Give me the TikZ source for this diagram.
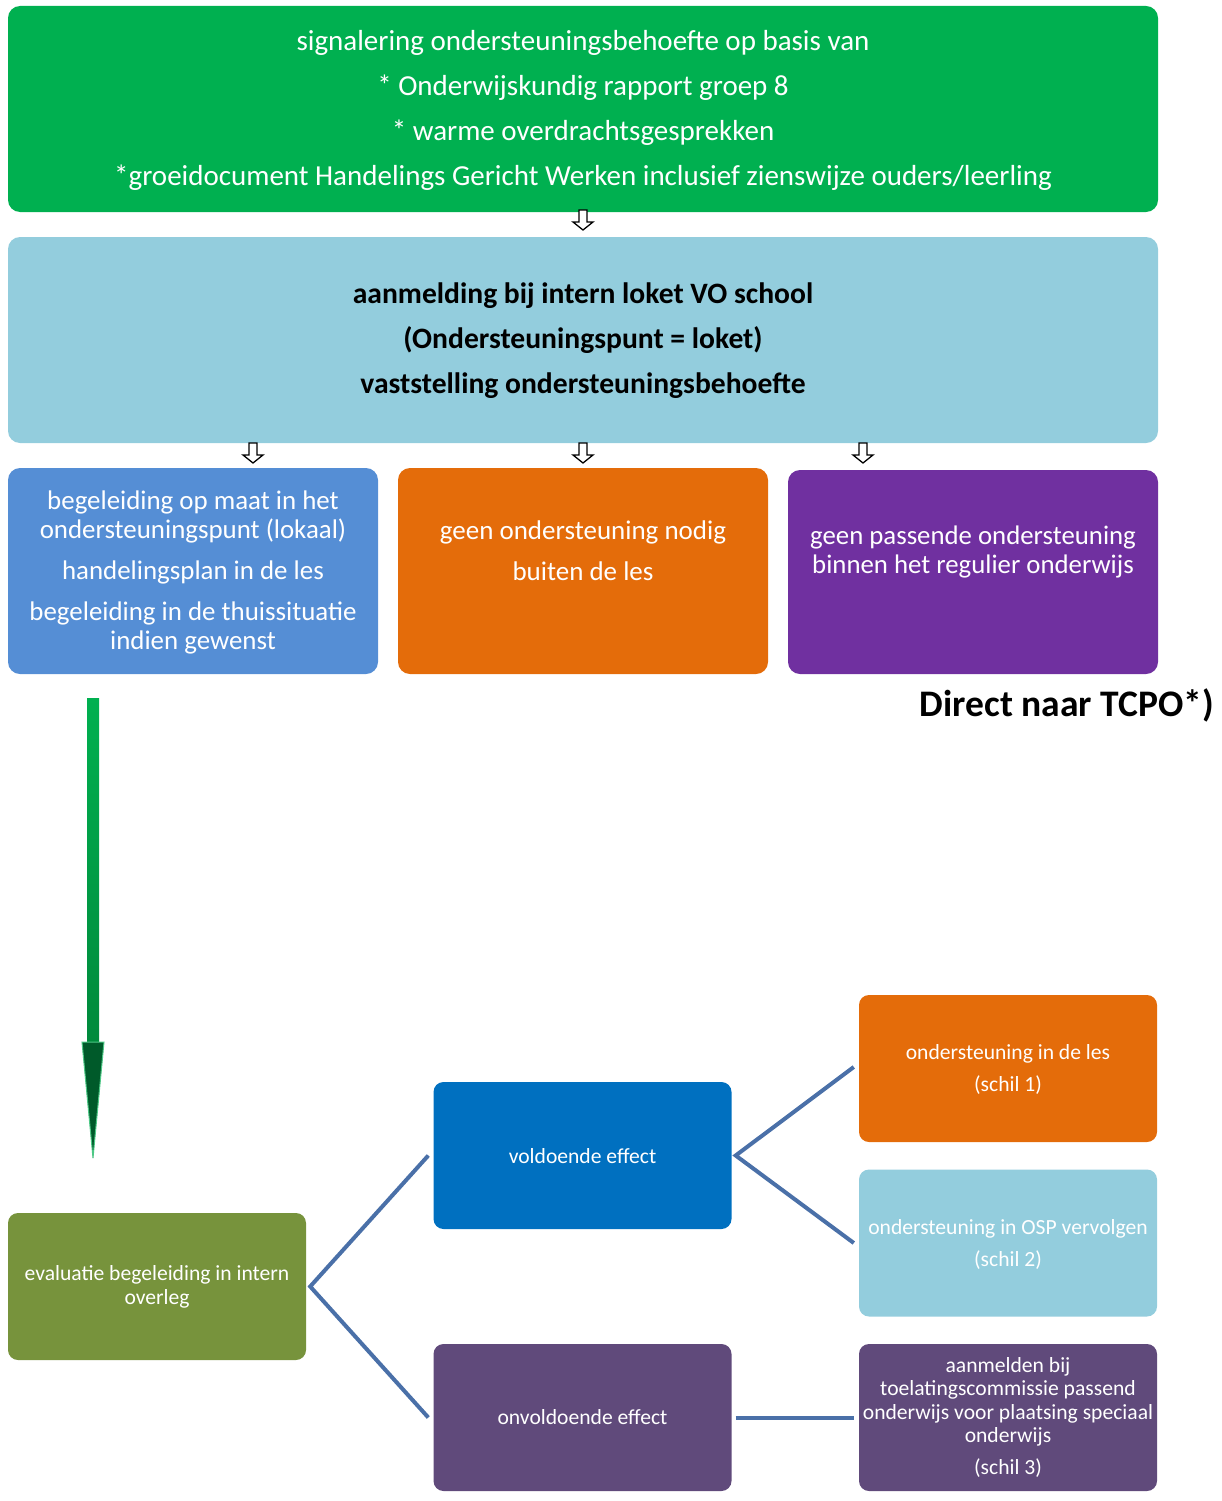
\documentclass[tikz,border=0pt]{standalone}
\usepackage{fontspec}
\setmainfont{Carlito}
\definecolor{cgreen}{HTML}{00B050}
\definecolor{clight}{HTML}{93CDDD}
\definecolor{cblue}{HTML}{558ED5}
\definecolor{corange}{HTML}{E46C0A}
\definecolor{cpurple}{HTML}{7030A0}
\definecolor{colive}{HTML}{77933C}
\definecolor{cdblue}{HTML}{0070C0}
\definecolor{cplum}{HTML}{604A7B}
\definecolor{cline}{HTML}{4A70A8}
\definecolor{cdgreen}{HTML}{005A2A}
\definecolor{cmgreen}{HTML}{008A3C}
\tikzset{
  box/.style={rectangle, rounded corners=12pt, draw=none, inner sep=0pt},
  sbox/.style={rectangle, rounded corners=10pt, draw=none, inner sep=0pt, minimum width=298pt, minimum height=147pt},
  txt/.style={align=center, inner sep=0pt},
  conn/.style={draw=cline, line width=4pt},
  hollow/.style={draw=black, line width=1.3pt, fill=white}
}
\begin{document}
\begin{tikzpicture}[x=1pt,y=-1pt]
\useasboundingbox (0,0) rectangle (1222,1501);
% top box
\node[box, fill=cgreen, minimum width=1150pt, minimum height=206pt] (top) at (583,109) {};
\node[txt, text=white, font=\fontsize{29}{45}\selectfont] (toptxt) at (583,110)
 {signalering ondersteuningsbehoefte op basis van\\ * Onderwijskundig rapport groep 8\\ * warme overdrachtsgesprekken\\ *groeidocument Handelings Gericht Werken inclusief zienswijze ouders/leerling};
% light blue box
\node[box, fill=clight, minimum width=1150pt, minimum height=206pt] (aanm) at (583,340) {};
\node[txt, text=black, font=\bfseries\fontsize{29.6}{45}\selectfont] (aanmtxt) at (583,341)
 {aanmelding bij intern loket VO school\\ (Ondersteuningspunt = loket)\\ vaststelling ondersteuningsbehoefte};
% three boxes
\node[box, fill=cblue, minimum width=370pt, minimum height=206pt] (begel) at (193,571) {};
\node[txt, text=white, font=\fontsize{26.9}{29}\selectfont] (begeltxt) at (193,572)
 {begeleiding op maat in het\\ ondersteuningspunt (lokaal)\\[12pt] handelingsplan in de les\\[12pt] begeleiding in de thuissituatie\\ indien gewenst};
\node[box, fill=corange, minimum width=370pt, minimum height=206pt] (geen) at (583,571) {};
\node[txt, text=white, font=\fontsize{27}{29}\selectfont] (geentxt) at (583,551)
 {geen ondersteuning nodig\\[12pt] buiten de les};
\node[box, fill=cpurple, minimum width=370pt, minimum height=204pt] (pass) at (973,572) {};
\node[txt, text=white, font=\fontsize{26.8}{29}\selectfont] (passtxt) at (973,552)
 {geen passende ondersteuning\\ binnen het regulier onderwijs};
\node[txt, text=black, font=\bfseries\fontsize{37.5}{40}\selectfont, anchor=east] (tcpo) at (1214,705) {Direct naar TCPO*)};
% small hollow arrows
\foreach \xx/\yy in {583/210,253/443,583/443,863/443}{
  \draw[hollow] (\xx-4,\yy) -- (\xx+4,\yy) -- (\xx+4,\yy+12) -- (\xx+10,\yy+12) -- (\xx,\yy+20) -- (\xx-10,\yy+12) -- (\xx-4,\yy+12) -- cycle;
}
% bottom boxes
\node[sbox, fill=colive] (eval) at (157,1286.5) {};
\node[txt, text=white, font=\fontsize{21.6}{24}\selectfont] (evaltxt) at (157,1287) {evaluatie begeleiding in intern\\ overleg};
\node[sbox, fill=cdblue] (vold) at (582.5,1155.5) {};
\node[txt, text=white, font=\fontsize{21.6}{24}\selectfont] (voldtxt) at (582.5,1156) {voldoende effect};
\node[sbox, fill=cplum] (onvold) at (582.5,1417.5) {};
\node[txt, text=white, font=\fontsize{21.6}{24}\selectfont] (onvoldtxt) at (582.5,1417) {onvoldoende effect};
\node[sbox, fill=corange] (schil1) at (1008,1068.5) {};
\node[txt, text=white, font=\fontsize{21.6}{24}\selectfont] (schil1txt) at (1008,1069) {ondersteuning in de les\\[8pt] (schil 1)};
\node[sbox, fill=clight] (schil2) at (1008,1243) {};
\node[txt, text=white, font=\fontsize{21.6}{24}\selectfont] (schil2txt) at (1008,1244) {ondersteuning in OSP vervolgen\\[8pt] (schil 2)};
\node[sbox, fill=cplum] (schil3) at (1008,1417.5) {};
\node[txt, text=white, font=\fontsize{21.6}{23.5}\selectfont] (schil3txt) at (1008,1417) {aanmelden bij\\ toelatingscommissie passend\\ onderwijs voor plaatsing speciaal\\ onderwijs\\[8pt] (schil 3)};
% connectors
\coordinate (ev) at ([xshift=4pt]eval.east);
\draw[conn] ([xshift=-5pt]vold.west) -- (ev) -- ([xshift=-5pt]onvold.west);
\coordinate (vr) at ([xshift=4pt]vold.east);
\draw[conn] ([xshift=-5pt,yshift=1.5pt]schil1.west) -- (vr) -- ([xshift=-5pt]schil2.west);
\draw[conn] ([xshift=4pt]onvold.east) -- ([xshift=-5pt]schil3.west);
% big green arrow
\coordinate (gs) at (93,698);
\coordinate (gt) at (93,1158);
\shade[top color=cgreen, bottom color=cmgreen] (87,698) rectangle (99,1042);
\draw[cgreen!70, line width=1pt, fill=cdgreen] (82,1042) -- (104,1042) -- (gt) -- cycle;
\end{tikzpicture}
\end{document}
